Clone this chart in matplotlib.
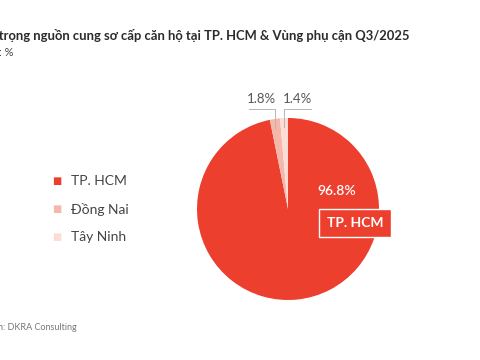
import numpy as np
import matplotlib
matplotlib.use("Agg")
import matplotlib.pyplot as plt

plt.rcParams['font.family'] = ['Lato', 'Noto Sans', 'DejaVu Sans']

regions = ["TP. HCM", "Đồng Nai", "Tây Ninh"]
shares = [96.8, 1.8, 1.4]
colors = ["#ec3f2e", "#f6b7ab", "#fcdcd5"]

title = "Tỷ trọng nguồn cung sơ cấp căn hộ tại TP. HCM & Vùng phụ cận Q3/2025"
unit = "Đơn vị: %"
source = "Nguồn: DKRA Consulting"

W, H = 480, 360
fig = plt.figure(figsize=(W / 100, H / 100), dpi=100)
fig.patch.set_facecolor("white")

# pie axes placed in pixel terms: centre (288, 209), radius 91
cx, cy, r = 288, 209, 91
ax = fig.add_axes([(cx - r) / W, (H - cy - r) / H, 2 * r / W, 2 * r / H])
wedges, _ = ax.pie(shares, colors=colors, startangle=90, counterclock=False,
                   wedgeprops=dict(linewidth=0))
ax.set_xlim(-1, 1); ax.set_ylim(-1, 1)
ax.set_aspect("equal")
ax.axis("off")

# small-slice callouts
line_col = "#b5b5b5"
ends = [None, -0.43, 0.25]
for i in (1, 2):
    w = wedges[i]
    mid = np.deg2rad((w.theta1 + w.theta2) / 2)
    x0 = np.cos(mid)
    y0 = 0.9 * np.sin(mid)
    yl = 1.1
    ax.plot([x0, x0, ends[i]], [y0, yl, yl], color=line_col, lw=0.7,
            clip_on=False)
    ax.text((x0 + ends[i]) / 2, yl + 0.04, f"{shares[i]}%", ha="center",
            va="bottom", fontsize=9.5, color="#555555", clip_on=False)

ax.text(0.54, 0.20, f"{shares[0]}%", ha="center", va="center",
        fontsize=10, color="white", fontweight="semibold")
ax.text(0.74, -0.155, regions[0], ha="center", va="center", fontsize=10,
        color="white", fontweight="bold", clip_on=False,
        bbox=dict(boxstyle="square,pad=0.55", fc=colors[0], ec="white", lw=1))

# legend
for i, (name, c) in enumerate(zip(regions, colors)):
    y = 1 - (181 + 28 * i) / H
    fig.text(57 / W, y, "■", color=c, fontsize=7, ha="center", va="center",
             family="DejaVu Sans")
    fig.text(71 / W, y, name, color="#444444", fontsize=10, ha="left",
             va="center")

fig.text(-0.04, 1 - 36 / H, title, fontsize=9.4, fontweight="bold",
         color="#2b2b2b", ha="left", va="center")
fig.text(-0.07, 1 - 52 / H, unit, fontsize=8, color="#444444",
         ha="left", va="center")
fig.text(-0.05, 1 - 327 / H, source, fontsize=6.5, color="#777777",
         ha="left", va="center")

fig.savefig("out.png", dpi=100, facecolor="white")
